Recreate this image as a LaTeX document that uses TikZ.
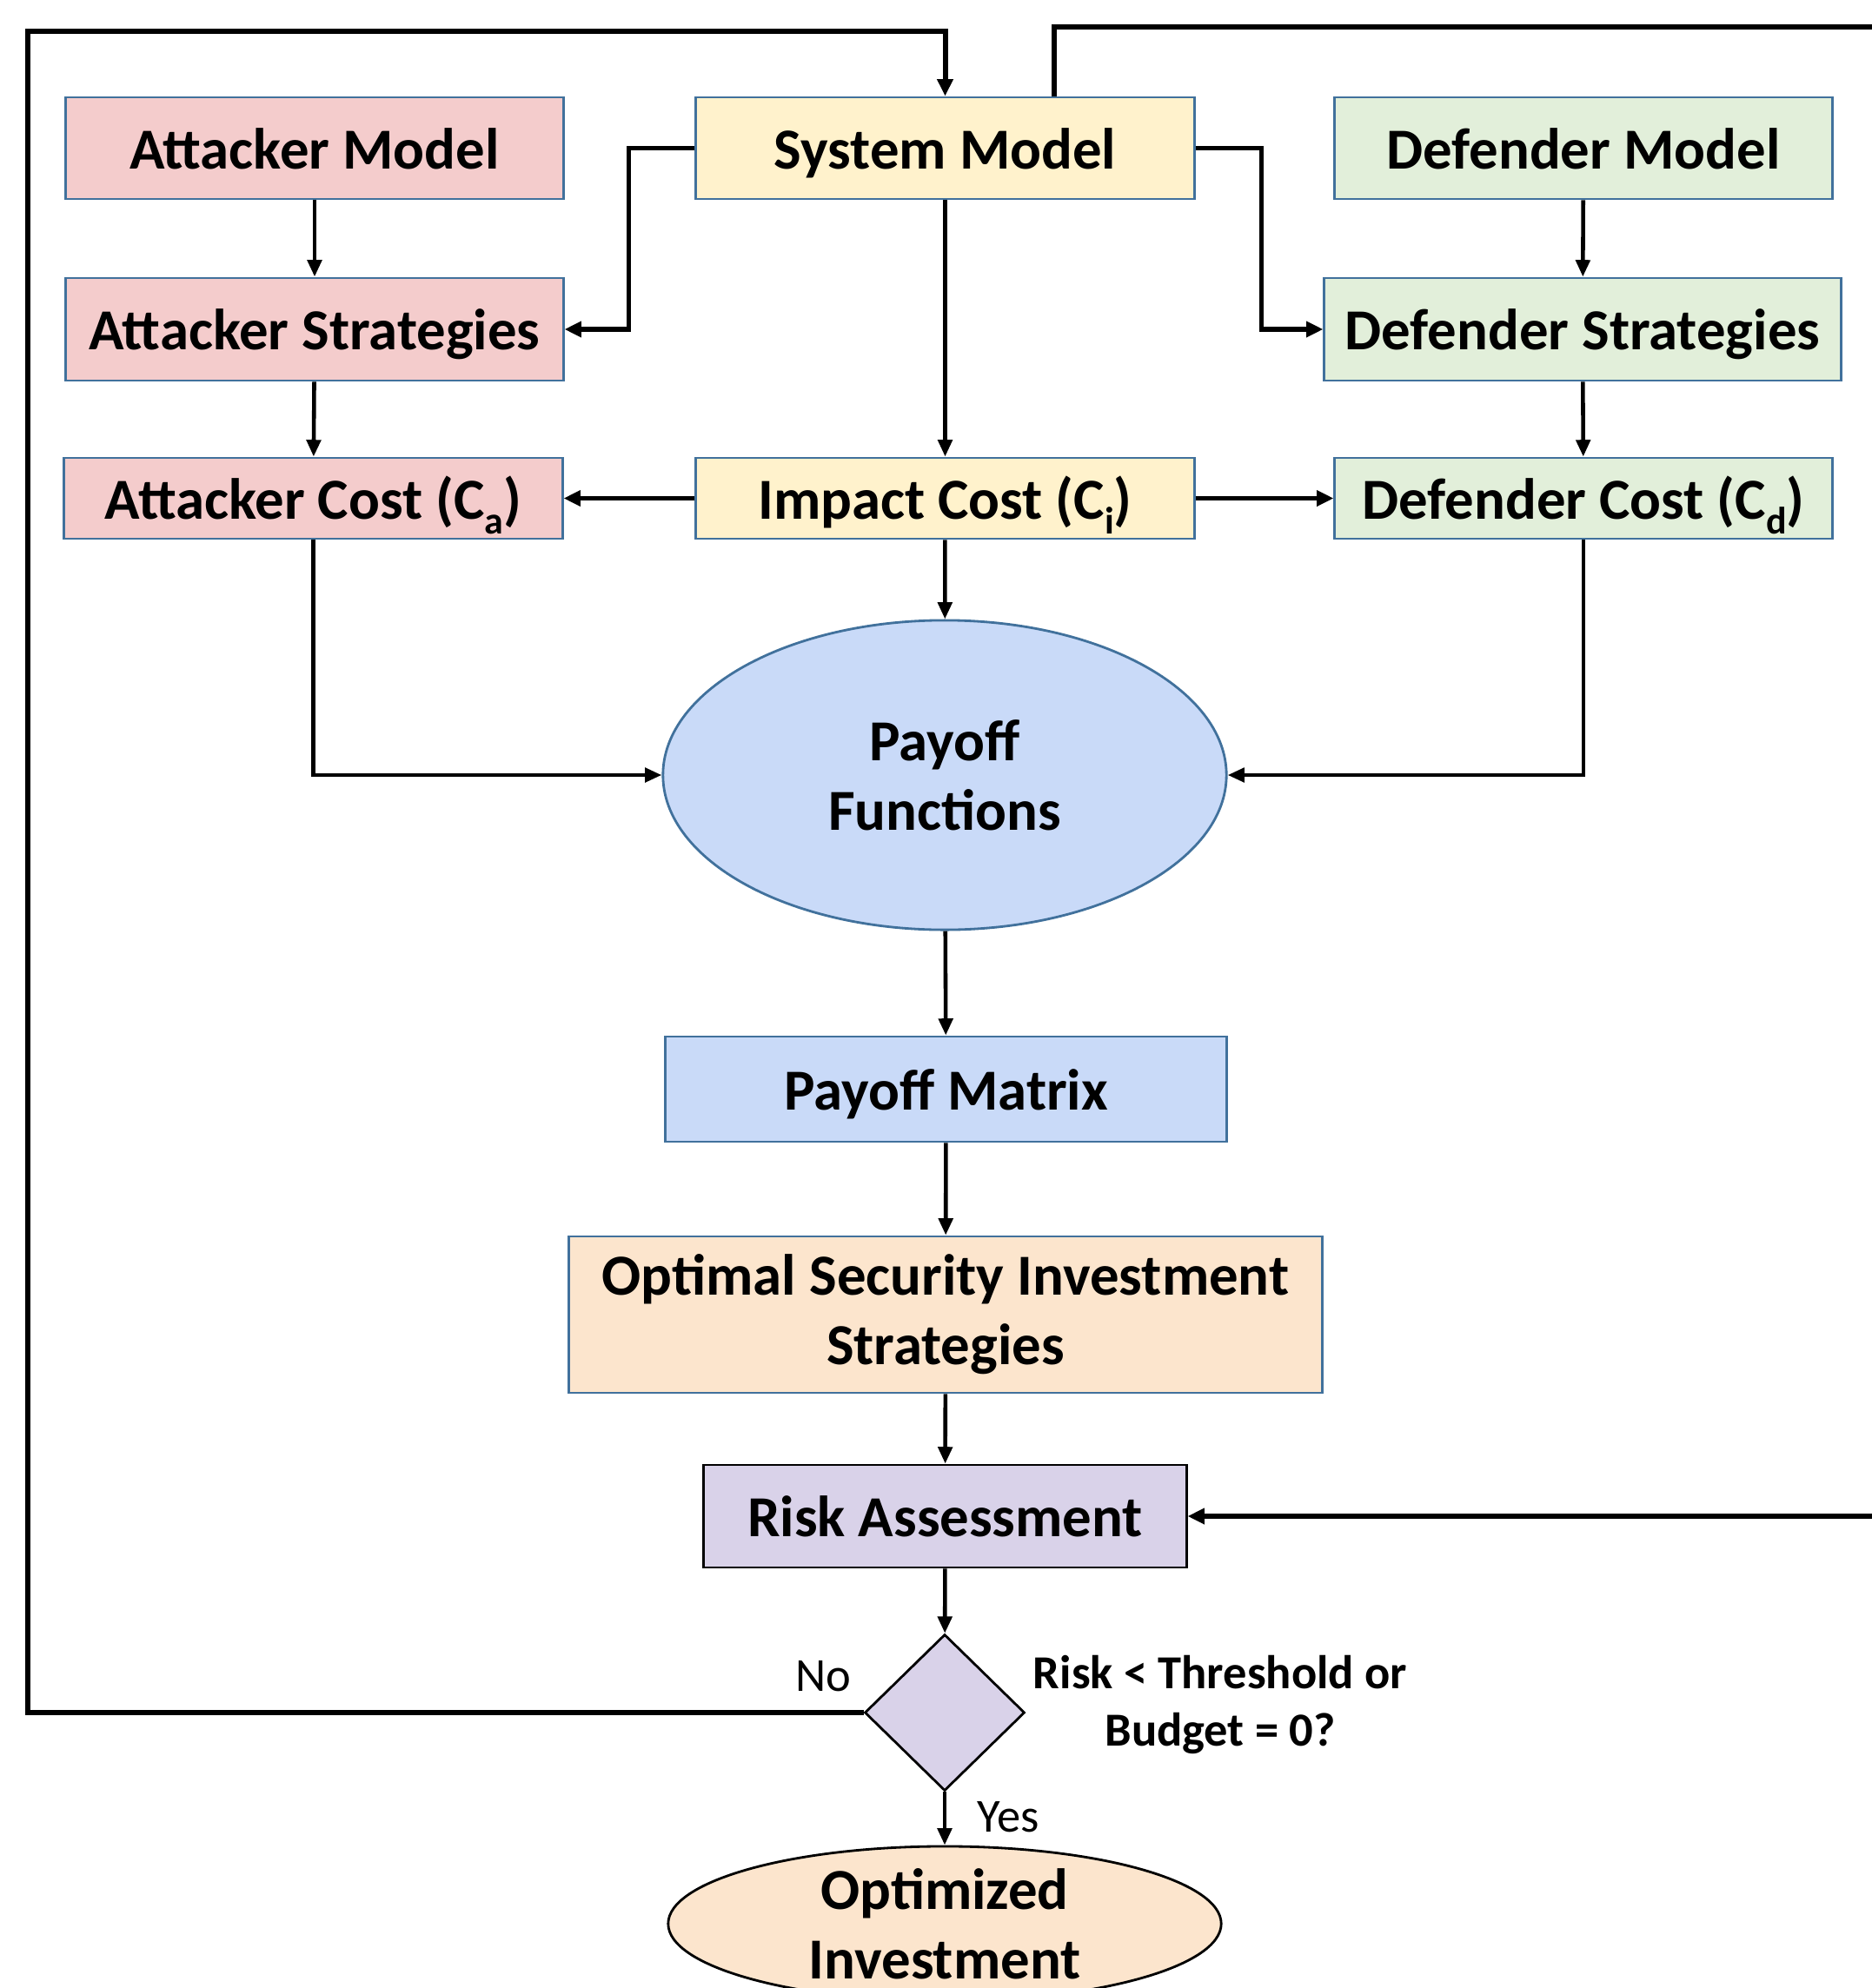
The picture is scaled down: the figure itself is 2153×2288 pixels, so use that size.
\documentclass[tikz,border=0pt]{standalone}
\usepackage{fontspec}
\setmainfont{Carlito}
\usetikzlibrary{shapes.geometric,arrows.meta}

\definecolor{attfill}{RGB}{244,204,204}
\definecolor{sysfill}{RGB}{255,242,204}
\definecolor{deffill}{RGB}{226,239,218}
\definecolor{payfill}{RGB}{201,218,248}
\definecolor{optfill}{RGB}{252,229,205}
\definecolor{riskfill}{RGB}{217,210,233}
\definecolor{edgeblue}{RGB}{65,113,156}

\newcommand{\lowsub}[1]{\raisebox{-5pt}{\fontsize{12.5}{12}\selectfont #1}}

\begin{document}
\begin{tikzpicture}[x=0.01cm,y=-0.01cm,
    box/.style={draw=edgeblue,line width=0.8pt,inner sep=0pt,align=center,
      font=\fontsize{19}{22.8}\selectfont\bfseries},
    oneline/.style={text height=14pt,text depth=0.6pt},
    arr/.style={line width=1.3pt,-{Triangle[length=5.5pt,width=4.6pt]}},
    thickarr/.style={line width=1.6pt,-{Triangle[length=5.5pt,width=5pt]}},
    loopline/.style={line width=1.7pt},
    lbl/.style={font=\fontsize{15.5}{18.6}\selectfont,align=center}
  ]
  \useasboundingbox (0,0) rectangle (2153,2288);

  % top row
  \node[box,oneline,fill=attfill,minimum width=5.72cm,minimum height=1.17cm] (attM) at (362,170.5) {Attacker Model};
  \node[box,oneline,fill=sysfill,minimum width=5.73cm,minimum height=1.17cm] (sysM) at (1087.5,170.5) {System Model};
  \node[box,oneline,fill=deffill,minimum width=5.72cm,minimum height=1.17cm] (defM) at (1822,170.5) {Defender Model};

  % strategies
  \node[box,oneline,fill=attfill,minimum width=5.72cm,minimum height=1.18cm] (attS) at (362,379) {Attacker Strategies};
  \node[box,oneline,fill=deffill,minimum width=5.94cm,minimum height=1.18cm] (defS) at (1821,379) {Defender Strategies};

  % costs
  \node[box,oneline,fill=attfill,minimum width=5.73cm,minimum height=0.93cm] (attC) at (360.5,573.5) {Attacker Cost (C\lowsub{a})};
  \node[box,oneline,fill=sysfill,minimum width=5.73cm,minimum height=0.93cm] (impC) at (1087.5,573.5) {Impact Cost (C\lowsub{i})};
  \node[box,oneline,fill=deffill,minimum width=5.72cm,minimum height=0.93cm] (defC) at (1822,573.5) {Defender Cost (C\lowsub{d})};

  % payoff and result
  \node[box,ellipse,fill=payfill,minimum width=6.48cm,minimum height=3.56cm] (payF) at (1087,892) {Payoff\\Functions};
  \node[box,oneline,fill=payfill,minimum width=6.45cm,minimum height=1.21cm] (payM) at (1088.5,1253.5) {Payoff Matrix};
  \node[box,fill=optfill,minimum width=8.66cm,minimum height=1.8cm] (optS) at (1088,1513) {Optimal Security Investment\\Strategies};
  \node[box,oneline,draw=black,fill=riskfill,minimum width=5.55cm,minimum height=1.18cm] (riskA) at (1087.5,1745) {Risk Assessment};
  \node[box,draw=black,diamond,fill=riskfill,minimum width=1.84cm,minimum height=1.8cm] (dec) at (1087,1971) {};
  \node[box,draw=black,ellipse,fill=optfill,inner ysep=-8pt,minimum width=6.36cm,minimum height=1.78cm] (optI) at (1087,2214) {Optimized\\Investment};

  \node[lbl] (lblNo) at (947,1929) {No};
  \node[lbl] (lblYes) at (1160,2091) {Yes};
  \node[lbl,font=\fontsize{15.5}{18.6}\selectfont\bfseries] (lblCond) at (1404,1962) {Risk < Threshold or\\Budget = 0?};

  % connectors
  \draw[arr] (attM) -- (attS);
  \draw[arr] (attS) -- (attC);
  \draw[arr] (defM) -- (defS);
  \draw[arr] (defS) -- (defC);
  \draw[arr] (sysM) -- (impC);
  \draw[thickarr] (sysM.west) -- ++(-76,0) |- (attS.east);
  \draw[thickarr] (sysM.east) -- ++(76,0) |- (defS.west);
  \draw[thickarr] (impC) -- (attC);
  \draw[thickarr] (impC) -- (defC);
  \draw[arr] (impC) -- (payF);
  \draw[arr] (attC.south) |- (payF.west);
  \draw[arr] (defC.south) |- (payF.east);
  \draw[arr] (payF) -- (payM);
  \draw[arr] (payM) -- (optS);
  \draw[arr] (optS) -- (riskA);
  \draw[arr] (riskA) -- (dec);
  \draw[arr] (dec) -- (optI);

  % feedback loops
  \coordinate (leftTop) at (32,36);
  \coordinate (rightTop) at (2230,31);
  \draw[loopline,-{Triangle[length=5.5pt,width=5pt]}] (dec.west) -| (leftTop) -| (sysM.north);
  \draw[loopline,-{Triangle[length=5.5pt,width=5pt]}] ([xshift=1.255cm]sysM.north) |- (rightTop) |- (riskA.east);
\end{tikzpicture}
\end{document}
